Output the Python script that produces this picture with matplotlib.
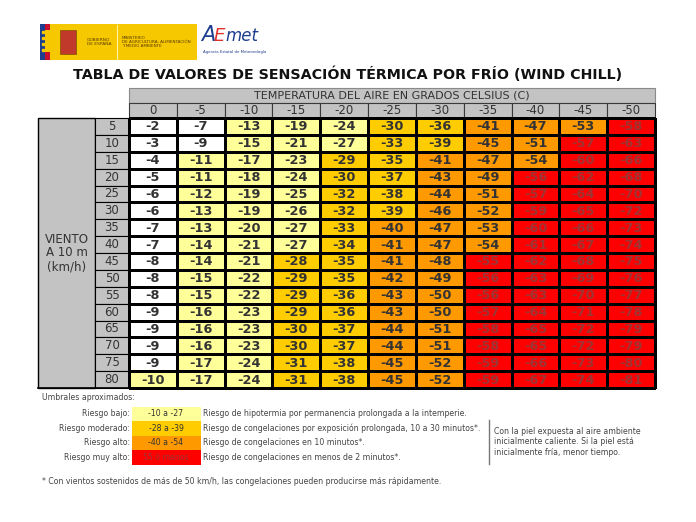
import numpy as np
import matplotlib.pyplot as plt
from matplotlib.patches import Rectangle
from matplotlib.colors import ListedColormap

# wind chill table (AEMET)
temps = [0, -5, -10, -15, -20, -25, -30, -35, -40, -45, -50]
winds = [5, 10, 15, 20, 25, 30, 35, 40, 45, 50, 55, 60, 65, 70, 75, 80]
chill = [
    [-2, -7, -13, -19, -24, -30, -36, -41, -47, -53, -58],
    [-3, -9, -15, -21, -27, -33, -39, -45, -51, -57, -63],
    [-4, -11, -17, -23, -29, -35, -41, -47, -54, -60, -66],
    [-5, -11, -18, -24, -30, -37, -43, -49, -56, -62, -68],
    [-6, -12, -19, -25, -32, -38, -44, -51, -57, -64, -70],
    [-6, -13, -19, -26, -32, -39, -46, -52, -59, -65, -72],
    [-7, -13, -20, -27, -33, -40, -47, -53, -60, -66, -73],
    [-7, -14, -21, -27, -34, -41, -47, -54, -61, -67, -74],
    [-8, -14, -21, -28, -35, -41, -48, -55, -62, -68, -75],
    [-8, -15, -22, -29, -35, -42, -49, -56, -63, -69, -76],
    [-8, -15, -22, -29, -36, -43, -50, -56, -63, -70, -77],
    [-9, -16, -23, -29, -36, -43, -50, -57, -64, -71, -78],
    [-9, -16, -23, -30, -37, -44, -51, -58, -65, -72, -79],
    [-9, -16, -23, -30, -37, -44, -51, -58, -65, -72, -79],
    [-9, -17, -24, -31, -38, -45, -52, -59, -66, -73, -80],
    [-10, -17, -24, -31, -38, -45, -52, -59, -67, -74, -81],
]

risk_labels = ["Riesgo bajo:", "Riesgo moderado:", "Riesgo alto:", "Riesgo muy alto:"]
risk_ranges = ["-10 a -27", "-28 a -39", "-40 a -54", "55 ó menos"]
risk_texts = [
    "Riesgo de hipotermia por permanencia prolongada a la intemperie.",
    "Riesgo de congelaciones por exposición prolongada, 10 a 30 minutos*.",
    "Riesgo de congelaciones en 10 minutos*.",
    "Riesgo de congelaciones en menos de 2 minutos*.",
]
risk_limits = [-10, -28, -40, -55]   # each band starts at this value and below

colors = ['#ffffff', '#ffff99', '#ffcc00', '#ff9900', '#ff0000']
gray = '#c3c3c3'
txt = '#333333'
red_txt = '#9e3434'

chill = np.array(chill)
level = np.zeros(chill.shape, dtype=int)
for k, lim in enumerate(risk_limits):
    level[chill <= lim] = k + 1

fig = plt.figure(figsize=(6.96, 5.22), dpi=100)
ax = fig.add_axes([0, 0, 1, 1])
ax.set_xlim(0, 696)
ax.set_ylim(522, 0)
ax.axis('off')

# --- logos (rough) ---
ax.add_patch(Rectangle((40, 24), 157, 36, fc='#f6c800', ec='none'))
ax.add_patch(Rectangle((40, 24), 5, 36, fc='#1d3d8f', ec='none'))
ax.add_patch(Rectangle((45, 24), 5, 36, fc='#f6c800', ec='none'))
ax.add_patch(Rectangle((45, 24), 5, 6, fc='#c8102e', ec='none'))
ax.add_patch(Rectangle((45, 52), 5, 8, fc='#c8102e', ec='none'))
ax.plot([42.5] * 4, [32, 38, 44, 50], 's', ms=1.5, color='#f6c800')
ax.add_patch(Rectangle((60, 30), 16, 24, fc='#c0392b', ec='#8a5a00', lw=0.6))
ax.text(87, 42, "GOBIERNO\nDE ESPAÑA", fontsize=3.2, color='#5a3a00', va='center', linespacing=1.1)
ax.plot([117, 117], [25, 59], color='#fff2a0', lw=0.8)
ax.text(122, 42, "MINISTERIO\nDE AGRICULTURA, ALIMENTACIÓN\nY MEDIO AMBIENTE", fontsize=3.0,
        color='#5a3a00', va='center', linespacing=1.1)
ax.text(201, 45, "A", fontsize=15, color='#1d3d8f', style='italic', va='bottom')
ax.text(214, 45, "E", fontsize=13, color='#e0302a', style='italic', va='bottom')
ax.text(225, 45, "met", fontsize=12, color='#1d3d8f', style='italic', va='bottom')
ax.text(203, 52, "Agencia Estatal de Meteorología", fontsize=2.8, color='#1d3d8f', va='center')

# --- title ---
ax.text(348, 74, "TABLA DE VALORES DE SENSACIÓN TÉRMICA POR FRÍO (WIND CHILL)",
        ha='center', va='center', fontsize=10.3, fontweight='bold', color='#111111')

# --- table geometry ---
left, right, top, bottom = 129, 655, 118, 388
head_h = 15
cw = (right - left) / len(temps)
rh = (bottom - top) / len(winds)
xe = left + cw * np.arange(len(temps) + 1)
ye = top + rh * np.arange(len(winds) + 1)

# header rows
ax.add_patch(Rectangle((left, top - 2 * head_h), right - left, head_h, fc=gray, ec='#8a8a8a', lw=0.8))
ax.text((left + right) / 2, top - 1.5 * head_h, "TEMPERATURA DEL AIRE EN GRADOS CELSIUS (C)",
        ha='center', va='center', fontsize=8, color=txt)
for j, t in enumerate(temps):
    ax.add_patch(Rectangle((xe[j], top - head_h), cw, head_h, fc=gray, ec='#3a3a3a', lw=0.8))
    ax.text(xe[j] + cw / 2, top - head_h / 2, str(t), ha='center', va='center', fontsize=8.5, color=txt)

# wind column + side label
wl = 95
ax.add_patch(Rectangle((38, top), wl - 38, bottom - top, fc=gray, ec='black', lw=1))
ax.text((38 + wl) / 2, 253, "VIENTO\nA 10 m\n(km/h)", ha='center', va='center',
        fontsize=8.5, color=txt, linespacing=1.05)
for i, w in enumerate(winds):
    ax.add_patch(Rectangle((wl, ye[i]), left - wl, rh, fc=gray, ec='black', lw=0.8))
    ax.text(wl + 17, ye[i] + rh / 2, str(w), ha='center', va='center', fontsize=8.5, color=txt)

# data cells
ax.pcolormesh(xe, ye, level, cmap=ListedColormap(colors), vmin=-0.5, vmax=4.5,
              edgecolors='black', linewidth=0.8)
for i in range(len(winds)):
    for j in range(len(temps)):
        c = red_txt if level[i, j] == 4 else txt
        ax.text(xe[j] + cw / 2, ye[i] + rh / 2 + 0.5, str(chill[i, j]), ha='center', va='center',
                fontsize=9.3, fontweight='bold', color=c)
ax.plot([38, right], [bottom, bottom], color='black', lw=1.2)

# --- legend ---
fs = 5.6
ax.text(42, 398, "Umbrales aproximados:", fontsize=fs, color='#444444', va='center')
ly0, lh = 406.5, 14.5
for k in range(4):
    yc = ly0 + lh * (k + 0.5)
    ax.add_patch(Rectangle((132, ly0 + lh * k), 69, lh, fc=colors[k + 1], ec='none'))
    ax.text(130, yc, risk_labels[k], ha='right', va='center', fontsize=fs, color='#444444')
    ax.text(166, yc, risk_ranges[k], ha='center', va='center', fontsize=fs,
            color=red_txt if k == 3 else txt)
    ax.text(203, yc, risk_texts[k], ha='left', va='center', fontsize=fs, color='#444444')

ax.plot([489, 489], [420, 464], color='#777777', lw=1)
ax.text(494, 442, "Con la piel expuesta al aire ambiente\ninicialmente caliente. Si la piel está\n"
        "inicialmente fría, menor tiempo.", ha='left', va='center', fontsize=fs,
        color='#444444', linespacing=1.25)

ax.text(42, 481, "* Con vientos sostenidos de más de 50 km/h, las congelaciones pueden producirse más rápidamente.",
        fontsize=fs, color='#444444', va='center')

fig.savefig('out.png', dpi=100)
